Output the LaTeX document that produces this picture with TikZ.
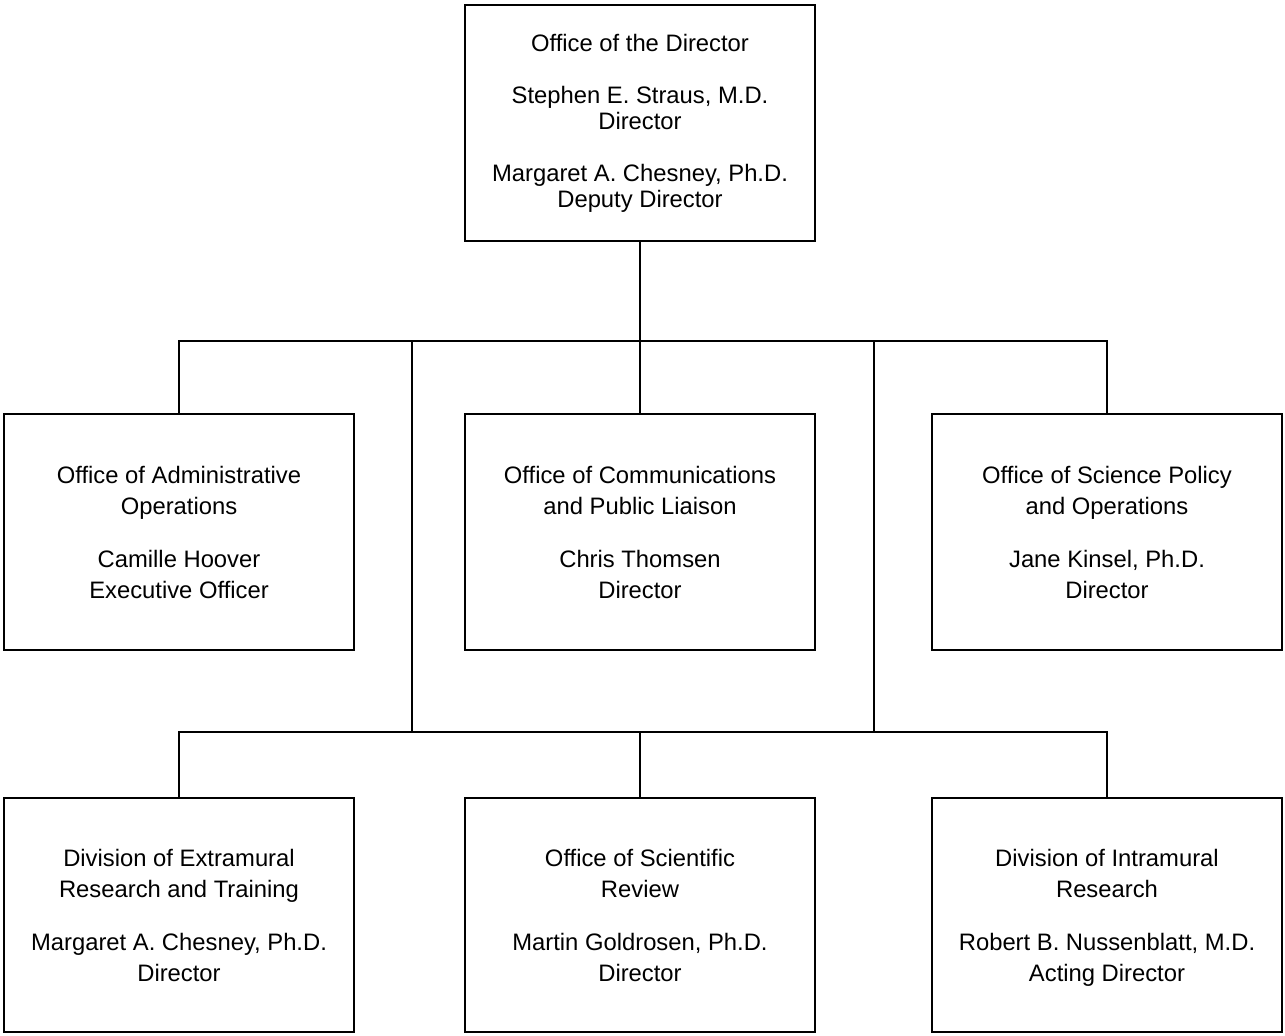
\documentclass[tikz,border=0pt]{standalone}
\usepackage{fontspec}
\setmainfont{Liberation Sans}
\tikzset{
  orgbox/.style={draw, line width=1.1pt, align=center, minimum width=175pt, minimum height=118pt,
    font=\fontsize{11.9}{15.5}\selectfont},
  link/.style={line width=1.1pt}
}

\begin{document}
\begin{tikzpicture}[x=0.5pt, y=-0.5pt]
   \useasboundingbox (0,0) rectangle (1285,1035);
   % top box
   \node[orgbox, font=\fontsize{11.9}{13}\selectfont] (dir) at (640,123)
     {Office of the Director\\[13pt] Stephen E. Straus, M.D.\\ Director\\[13pt] Margaret A. Chesney, Ph.D.\\ Deputy Director};
   % offices
   \node[orgbox] (admin) at (179,532) {Office of Administrative\\ Operations\\[11pt] Camille Hoover\\ Executive Officer};
   \node[orgbox] (comm) at (640,532) {Office of Communications\\ and Public Liaison\\[11pt] Chris Thomsen\\ Director};
   \node[orgbox] (sci) at (1107,532) {Office of Science Policy\\ and Operations\\[11pt] Jane Kinsel, Ph.D.\\ Director};
   % divisions
   \node[orgbox, minimum height=117pt] (extra) at (179,915) {Division of Extramural\\ Research and Training\\[11pt] Margaret A. Chesney, Ph.D.\\ Director};
   \node[orgbox, minimum height=117pt] (review) at (640,915) {Office of Scientific\\ Review\\[11pt] Martin Goldrosen, Ph.D.\\ Director};
   \node[orgbox, minimum height=117pt] (intra) at (1107,915) {Division of Intramural\\ Research\\[11pt] Robert B. Nussenblatt, M.D.\\ \smash{Acting Director}};
   % connectors
   \coordinate (bus1) at (0,341);
   \coordinate (bus2) at (0,732);
   \coordinate (lt) at (412,341);
   \coordinate (rt) at (874,341);
   \draw[link] (dir.south) -- (dir.south |- bus1);
   \draw[link] (admin.north) |- (bus1 -| sci.north) -- (sci.north);
   \draw[link] (comm.north) -- (comm.north |- bus1);
   \draw[link] (lt) -- (lt |- bus2);
   \draw[link] (rt) -- (rt |- bus2);
   \draw[link] (extra.north) |- (bus2 -| intra.north) -- (intra.north);
   \draw[link] (review.north) -- (review.north |- bus2);
\end{tikzpicture}
\end{document}
